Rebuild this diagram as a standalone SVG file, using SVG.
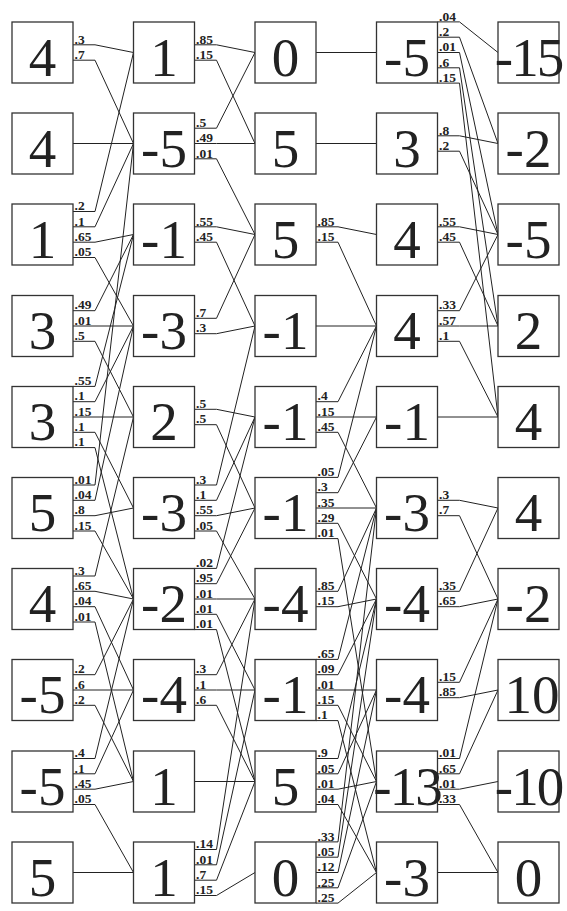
<svg xmlns="http://www.w3.org/2000/svg" width="567" height="911" viewBox="0 0 567 911">
<style>
.bx{fill:#fff;stroke:#333;stroke-width:1.3}
.n{font-family:"Liberation Serif","Times New Roman",serif;font-size:55px;text-anchor:middle;fill:#222}
.w{letter-spacing:-2px}
.e polyline,.e line{fill:none;stroke:#222;stroke-width:1}
.p{font-family:"Liberation Serif","Times New Roman",serif;font-size:13.5px;font-weight:bold;fill:#222}
</style>
<rect width="567" height="911" fill="#fff"/>
<g id="connectors" class="e">
<!-- col1 -> col2 -->
<polyline points="73,44.8 95,44.8 133.5,52.5"/><text class="p" x="74.5" y="43.5">.3</text>
<polyline points="73,60.2 95,60.2 133.5,143.5"/><text class="p" x="74.5" y="58.9">.7</text>
<line x1="73" y1="143.5" x2="133.5" y2="143.5"/>
<polyline points="73,211.5 95,211.5 133.5,52.5"/><text class="p" x="74.5" y="210.2">.2</text>
<polyline points="73,226.8 95,226.8 133.5,143.5"/><text class="p" x="74.5" y="225.5">.1</text>
<polyline points="73,242.2 95,242.2 133.5,234.5"/><text class="p" x="74.5" y="240.9">.65</text>
<polyline points="73,257.5 95,257.5 133.5,326"/><text class="p" x="74.5" y="256.2">.05</text>
<polyline points="73,310.7 95,310.7 133.5,234.5"/><text class="p" x="74.5" y="309.4">.49</text>
<polyline points="73,326 95,326 133.5,326"/><text class="p" x="74.5" y="324.7">.01</text>
<polyline points="73,341.3 95,341.3 133.5,417"/><text class="p" x="74.5" y="340">.5</text>
<polyline points="73,386.4 95,386.4 133.5,234.5"/><text class="p" x="74.5" y="385.1">.55</text>
<polyline points="73,401.7 95,401.7 133.5,326"/><text class="p" x="74.5" y="400.4">.1</text>
<polyline points="73,417 95,417 133.5,417"/><text class="p" x="74.5" y="415.7">.15</text>
<polyline points="73,432.3 95,432.3 133.5,508"/><text class="p" x="74.5" y="431">.1</text>
<polyline points="73,447.6 95,447.6 133.5,599"/><text class="p" x="74.5" y="446.3">.1</text>
<polyline points="73,485 95,485 133.5,143.5"/><text class="p" x="74.5" y="483.7">.01</text>
<polyline points="73,500.3 95,500.3 133.5,326"/><text class="p" x="74.5" y="499">.04</text>
<polyline points="73,515.7 95,515.7 133.5,508"/><text class="p" x="74.5" y="514.4">.8</text>
<polyline points="73,531 95,531 133.5,599"/><text class="p" x="74.5" y="529.7">.15</text>
<polyline points="73,576 95,576 133.5,417"/><text class="p" x="74.5" y="574.7">.3</text>
<polyline points="73,591.3 95,591.3 133.5,599"/><text class="p" x="74.5" y="590">.65</text>
<polyline points="73,606.7 95,606.7 133.5,690"/><text class="p" x="74.5" y="605.4">.04</text>
<polyline points="73,622 95,622 133.5,781.5"/><text class="p" x="74.5" y="620.7">.01</text>
<polyline points="73,674.7 95,674.7 133.5,599"/><text class="p" x="74.5" y="673.4">.2</text>
<polyline points="73,690 95,690 133.5,690"/><text class="p" x="74.5" y="688.7">.6</text>
<polyline points="73,705.3 95,705.3 133.5,781.5"/><text class="p" x="74.5" y="704">.2</text>
<polyline points="73,758.5 95,758.5 133.5,599"/><text class="p" x="74.5" y="757.2">.4</text>
<polyline points="73,773.8 95,773.8 133.5,690"/><text class="p" x="74.5" y="772.5">.1</text>
<polyline points="73,789.2 95,789.2 133.5,781.5"/><text class="p" x="74.5" y="787.9">.45</text>
<polyline points="73,804.5 95,804.5 133.5,872.5"/><text class="p" x="74.5" y="803.2">.05</text>
<line x1="73" y1="872.5" x2="133.5" y2="872.5"/>
<!-- col2 -> col3 -->
<polyline points="194.5,44.8 216.5,44.8 255,52.5"/><text class="p" x="196" y="43.5">.85</text>
<polyline points="194.5,60.2 216.5,60.2 255,143.5"/><text class="p" x="196" y="58.9">.15</text>
<polyline points="194.5,128.2 216.5,128.2 255,52.5"/><text class="p" x="196" y="126.9">.5</text>
<polyline points="194.5,143.5 216.5,143.5 255,143.5"/><text class="p" x="196" y="142.2">.49</text>
<polyline points="194.5,158.8 216.5,158.8 255,234.5"/><text class="p" x="196" y="157.5">.01</text>
<polyline points="194.5,226.8 216.5,226.8 255,234.5"/><text class="p" x="196" y="225.5">.55</text>
<polyline points="194.5,242.2 216.5,242.2 255,326"/><text class="p" x="196" y="240.9">.45</text>
<polyline points="194.5,318.3 216.5,318.3 255,234.5"/><text class="p" x="196" y="317">.7</text>
<polyline points="194.5,333.7 216.5,333.7 255,326"/><text class="p" x="196" y="332.4">.3</text>
<polyline points="194.5,409.3 216.5,409.3 255,417"/><text class="p" x="196" y="408">.5</text>
<polyline points="194.5,424.7 216.5,424.7 255,508"/><text class="p" x="196" y="423.4">.5</text>
<polyline points="194.5,485 216.5,485 255,326"/><text class="p" x="196" y="483.7">.3</text>
<polyline points="194.5,500.3 216.5,500.3 255,417"/><text class="p" x="196" y="499">.1</text>
<polyline points="194.5,515.7 216.5,515.7 255,508"/><text class="p" x="196" y="514.4">.55</text>
<polyline points="194.5,531 216.5,531 255,599"/><text class="p" x="196" y="529.7">.05</text>
<polyline points="194.5,568.4 216.5,568.4 255,417"/><text class="p" x="196" y="567.1">.02</text>
<polyline points="194.5,583.7 216.5,583.7 255,508"/><text class="p" x="196" y="582.4">.95</text>
<polyline points="194.5,599 216.5,599 255,599"/><text class="p" x="196" y="597.7">.01</text>
<polyline points="194.5,614.3 216.5,614.3 255,690"/><text class="p" x="196" y="613">.01</text>
<polyline points="194.5,629.6 216.5,629.6 255,781.5"/><text class="p" x="196" y="628.3">.01</text>
<polyline points="194.5,674.7 216.5,674.7 255,599"/><text class="p" x="196" y="673.4">.3</text>
<polyline points="194.5,690 216.5,690 255,690"/><text class="p" x="196" y="688.7">.1</text>
<polyline points="194.5,705.3 216.5,705.3 255,781.5"/><text class="p" x="196" y="704">.6</text>
<line x1="194.5" y1="781.5" x2="255" y2="781.5"/>
<polyline points="194.5,849.5 216.5,849.5 255,599"/><text class="p" x="196" y="848.2">.14</text>
<polyline points="194.5,864.8 216.5,864.8 255,690"/><text class="p" x="196" y="863.5">.01</text>
<polyline points="194.5,880.2 216.5,880.2 255,781.5"/><text class="p" x="196" y="878.9">.7</text>
<polyline points="194.5,895.5 216.5,895.5 255,872.5"/><text class="p" x="196" y="894.2">.15</text>
<!-- col3 -> col4 -->
<line x1="316" y1="52.5" x2="376.5" y2="52.5"/>
<line x1="316" y1="143.5" x2="376.5" y2="143.5"/>
<polyline points="316,226.8 338,226.8 376.5,234.5"/><text class="p" x="317.5" y="225.5">.85</text>
<polyline points="316,242.2 338,242.2 376.5,326"/><text class="p" x="317.5" y="240.9">.15</text>
<line x1="316" y1="326" x2="376.5" y2="326"/>
<polyline points="316,401.7 338,401.7 376.5,326"/><text class="p" x="317.5" y="400.4">.4</text>
<polyline points="316,417 338,417 376.5,417"/><text class="p" x="317.5" y="415.7">.15</text>
<polyline points="316,432.3 338,432.3 376.5,508"/><text class="p" x="317.5" y="431">.45</text>
<polyline points="316,477.4 338,477.4 376.5,326"/><text class="p" x="317.5" y="476.1">.05</text>
<polyline points="316,492.7 338,492.7 376.5,417"/><text class="p" x="317.5" y="491.4">.3</text>
<polyline points="316,508 338,508 376.5,508"/><text class="p" x="317.5" y="506.7">.35</text>
<polyline points="316,523.3 338,523.3 376.5,599"/><text class="p" x="317.5" y="522">.29</text>
<polyline points="316,538.6 338,538.6 376.5,781.5"/><text class="p" x="317.5" y="537.3">.01</text>
<polyline points="316,591.3 338,591.3 376.5,508"/><text class="p" x="317.5" y="590">.85</text>
<polyline points="316,606.7 338,606.7 376.5,599"/><text class="p" x="317.5" y="605.4">.15</text>
<polyline points="316,659.4 338,659.4 376.5,508"/><text class="p" x="317.5" y="658.1">.65</text>
<polyline points="316,674.7 338,674.7 376.5,599"/><text class="p" x="317.5" y="673.4">.09</text>
<polyline points="316,690 338,690 376.5,690"/><text class="p" x="317.5" y="688.7">.01</text>
<polyline points="316,705.3 338,705.3 376.5,781.5"/><text class="p" x="317.5" y="704">.15</text>
<polyline points="316,720.6 338,720.6 376.5,872.5"/><text class="p" x="317.5" y="719.3">.1</text>
<polyline points="316,758.5 338,758.5 376.5,599"/><text class="p" x="317.5" y="757.2">.9</text>
<polyline points="316,773.8 338,773.8 376.5,690"/><text class="p" x="317.5" y="772.5">.05</text>
<polyline points="316,789.2 338,789.2 376.5,781.5"/><text class="p" x="317.5" y="787.9">.01</text>
<polyline points="316,804.5 338,804.5 376.5,872.5"/><text class="p" x="317.5" y="803.2">.04</text>
<polyline points="316,841.9 338,841.9 376.5,508"/><text class="p" x="317.5" y="840.6">.33</text>
<polyline points="316,857.2 338,857.2 376.5,599"/><text class="p" x="317.5" y="855.9">.05</text>
<polyline points="316,872.5 338,872.5 376.5,690"/><text class="p" x="317.5" y="871.2">.12</text>
<polyline points="316,887.8 338,887.8 376.5,781.5"/><text class="p" x="317.5" y="886.5">.25</text>
<polyline points="316,903.1 338,903.1 376.5,872.5"/><text class="p" x="317.5" y="901.8">.25</text>
<!-- col4 -> col5 -->
<polyline points="437.5,21.9 459.5,21.9 498,52.5"/><text class="p" x="439" y="20.6">.04</text>
<polyline points="437.5,37.2 459.5,37.2 498,143.5"/><text class="p" x="439" y="35.9">.2</text>
<polyline points="437.5,52.5 459.5,52.5 498,234.5"/><text class="p" x="439" y="51.2">.01</text>
<polyline points="437.5,67.8 459.5,67.8 498,326"/><text class="p" x="439" y="66.5">.6</text>
<polyline points="437.5,83.1 459.5,83.1 498,417"/><text class="p" x="439" y="81.8">.15</text>
<polyline points="437.5,135.8 459.5,135.8 498,143.5"/><text class="p" x="439" y="134.5">.8</text>
<polyline points="437.5,151.2 459.5,151.2 498,234.5"/><text class="p" x="439" y="149.9">.2</text>
<polyline points="437.5,226.8 459.5,226.8 498,234.5"/><text class="p" x="439" y="225.5">.55</text>
<polyline points="437.5,242.2 459.5,242.2 498,326"/><text class="p" x="439" y="240.9">.45</text>
<polyline points="437.5,310.7 459.5,310.7 498,234.5"/><text class="p" x="439" y="309.4">.33</text>
<polyline points="437.5,326 459.5,326 498,326"/><text class="p" x="439" y="324.7">.57</text>
<polyline points="437.5,341.3 459.5,341.3 498,417"/><text class="p" x="439" y="340">.1</text>
<line x1="437.5" y1="417" x2="498" y2="417"/>
<polyline points="437.5,500.3 459.5,500.3 498,508"/><text class="p" x="439" y="499">.3</text>
<polyline points="437.5,515.7 459.5,515.7 498,599"/><text class="p" x="439" y="514.4">.7</text>
<polyline points="437.5,591.3 459.5,591.3 498,508"/><text class="p" x="439" y="590">.35</text>
<polyline points="437.5,606.7 459.5,606.7 498,599"/><text class="p" x="439" y="605.4">.65</text>
<polyline points="437.5,682.3 459.5,682.3 498,599"/><text class="p" x="439" y="681">.15</text>
<polyline points="437.5,697.7 459.5,697.7 498,690"/><text class="p" x="439" y="696.4">.85</text>
<polyline points="437.5,758.5 459.5,758.5 498,599"/><text class="p" x="439" y="757.2">.01</text>
<polyline points="437.5,773.8 459.5,773.8 498,690"/><text class="p" x="439" y="772.5">.65</text>
<polyline points="437.5,789.2 459.5,789.2 498,781.5"/><text class="p" x="439" y="787.9">.01</text>
<polyline points="437.5,804.5 459.5,804.5 498,872.5"/><text class="p" x="439" y="803.2">.33</text>
<line x1="437.5" y1="872.5" x2="498" y2="872.5"/>
</g>
<!-- column 1 -->
<g id="c1r1"><rect class="bx" x="12" y="22" width="61" height="61"/><text class="n" x="42.5" y="75.5">4</text></g>
<g id="c1r2"><rect class="bx" x="12" y="113" width="61" height="61"/><text class="n" x="42.5" y="166.5">4</text></g>
<g id="c1r3"><rect class="bx" x="12" y="204" width="61" height="61"/><text class="n" x="42.5" y="257.5">1</text></g>
<g id="c1r4"><rect class="bx" x="12" y="295.5" width="61" height="61"/><text class="n" x="42.5" y="349">3</text></g>
<g id="c1r5"><rect class="bx" x="12" y="386.5" width="61" height="61"/><text class="n" x="42.5" y="440">3</text></g>
<g id="c1r6"><rect class="bx" x="12" y="477.5" width="61" height="61"/><text class="n" x="42.5" y="531">5</text></g>
<g id="c1r7"><rect class="bx" x="12" y="568.5" width="61" height="61"/><text class="n" x="42.5" y="622">4</text></g>
<g id="c1r8"><rect class="bx" x="12" y="659.5" width="61" height="61"/><text class="n" x="42.5" y="713">-5</text></g>
<g id="c1r9"><rect class="bx" x="12" y="751" width="61" height="61"/><text class="n" x="42.5" y="804.5">-5</text></g>
<g id="c1r10"><rect class="bx" x="12" y="842" width="61" height="61"/><text class="n" x="42.5" y="895.5">5</text></g>
<!-- column 2 -->
<g id="c2r1"><rect class="bx" x="133.5" y="22" width="61" height="61"/><text class="n" x="164" y="75.5">1</text></g>
<g id="c2r2"><rect class="bx" x="133.5" y="113" width="61" height="61"/><text class="n" x="164" y="166.5">-5</text></g>
<g id="c2r3"><rect class="bx" x="133.5" y="204" width="61" height="61"/><text class="n" x="164" y="257.5">-1</text></g>
<g id="c2r4"><rect class="bx" x="133.5" y="295.5" width="61" height="61"/><text class="n" x="164" y="349">-3</text></g>
<g id="c2r5"><rect class="bx" x="133.5" y="386.5" width="61" height="61"/><text class="n" x="164" y="440">2</text></g>
<g id="c2r6"><rect class="bx" x="133.5" y="477.5" width="61" height="61"/><text class="n" x="164" y="531">-3</text></g>
<g id="c2r7"><rect class="bx" x="133.5" y="568.5" width="61" height="61"/><text class="n" x="164" y="622">-2</text></g>
<g id="c2r8"><rect class="bx" x="133.5" y="659.5" width="61" height="61"/><text class="n" x="164" y="713">-4</text></g>
<g id="c2r9"><rect class="bx" x="133.5" y="751" width="61" height="61"/><text class="n" x="164" y="804.5">1</text></g>
<g id="c2r10"><rect class="bx" x="133.5" y="842" width="61" height="61"/><text class="n" x="164" y="895.5">1</text></g>
<!-- column 3 -->
<g id="c3r1"><rect class="bx" x="255" y="22" width="61" height="61"/><text class="n" x="285.5" y="75.5">0</text></g>
<g id="c3r2"><rect class="bx" x="255" y="113" width="61" height="61"/><text class="n" x="285.5" y="166.5">5</text></g>
<g id="c3r3"><rect class="bx" x="255" y="204" width="61" height="61"/><text class="n" x="285.5" y="257.5">5</text></g>
<g id="c3r4"><rect class="bx" x="255" y="295.5" width="61" height="61"/><text class="n" x="285.5" y="349">-1</text></g>
<g id="c3r5"><rect class="bx" x="255" y="386.5" width="61" height="61"/><text class="n" x="285.5" y="440">-1</text></g>
<g id="c3r6"><rect class="bx" x="255" y="477.5" width="61" height="61"/><text class="n" x="285.5" y="531">-1</text></g>
<g id="c3r7"><rect class="bx" x="255" y="568.5" width="61" height="61"/><text class="n" x="285.5" y="622">-4</text></g>
<g id="c3r8"><rect class="bx" x="255" y="659.5" width="61" height="61"/><text class="n" x="285.5" y="713">-1</text></g>
<g id="c3r9"><rect class="bx" x="255" y="751" width="61" height="61"/><text class="n" x="285.5" y="804.5">5</text></g>
<g id="c3r10"><rect class="bx" x="255" y="842" width="61" height="61"/><text class="n" x="285.5" y="895.5">0</text></g>
<!-- column 4 -->
<g id="c4r1"><rect class="bx" x="376.5" y="22" width="61" height="61"/><text class="n" x="407" y="75.5">-5</text></g>
<g id="c4r2"><rect class="bx" x="376.5" y="113" width="61" height="61"/><text class="n" x="407" y="166.5">3</text></g>
<g id="c4r3"><rect class="bx" x="376.5" y="204" width="61" height="61"/><text class="n" x="407" y="257.5">4</text></g>
<g id="c4r4"><rect class="bx" x="376.5" y="295.5" width="61" height="61"/><text class="n" x="407" y="349">4</text></g>
<g id="c4r5"><rect class="bx" x="376.5" y="386.5" width="61" height="61"/><text class="n" x="407" y="440">-1</text></g>
<g id="c4r6"><rect class="bx" x="376.5" y="477.5" width="61" height="61"/><text class="n" x="407" y="531">-3</text></g>
<g id="c4r7"><rect class="bx" x="376.5" y="568.5" width="61" height="61"/><text class="n" x="407" y="622">-4</text></g>
<g id="c4r8"><rect class="bx" x="376.5" y="659.5" width="61" height="61"/><text class="n" x="407" y="713">-4</text></g>
<g id="c4r9"><rect class="bx" x="376.5" y="751" width="61" height="61"/><text class="n w" x="407" y="804.5">-13</text></g>
<g id="c4r10"><rect class="bx" x="376.5" y="842" width="61" height="61"/><text class="n" x="407" y="895.5">-3</text></g>
<!-- column 5 -->
<g id="c5r1"><rect class="bx" x="498" y="22" width="61" height="61"/><text class="n w" x="528.5" y="75.5">-15</text></g>
<g id="c5r2"><rect class="bx" x="498" y="113" width="61" height="61"/><text class="n" x="528.5" y="166.5">-2</text></g>
<g id="c5r3"><rect class="bx" x="498" y="204" width="61" height="61"/><text class="n" x="528.5" y="257.5">-5</text></g>
<g id="c5r4"><rect class="bx" x="498" y="295.5" width="61" height="61"/><text class="n" x="528.5" y="349">2</text></g>
<g id="c5r5"><rect class="bx" x="498" y="386.5" width="61" height="61"/><text class="n" x="528.5" y="440">4</text></g>
<g id="c5r6"><rect class="bx" x="498" y="477.5" width="61" height="61"/><text class="n" x="528.5" y="531">4</text></g>
<g id="c5r7"><rect class="bx" x="498" y="568.5" width="61" height="61"/><text class="n" x="528.5" y="622">-2</text></g>
<g id="c5r8"><rect class="bx" x="498" y="659.5" width="61" height="61"/><text class="n" x="532" y="713">10</text></g>
<g id="c5r9"><rect class="bx" x="498" y="751" width="61" height="61"/><text class="n w" x="528.5" y="804.5">-10</text></g>
<g id="c5r10"><rect class="bx" x="498" y="842" width="61" height="61"/><text class="n" x="528.5" y="895.5">0</text></g>
</svg>
